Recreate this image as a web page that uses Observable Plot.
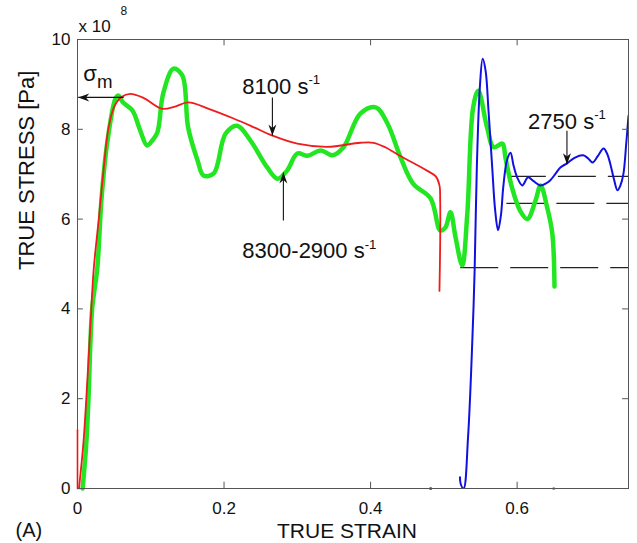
<!DOCTYPE html>
<html><head><meta charset="utf-8">
<script src="https://cdn.jsdelivr.net/npm/d3@7"></script>
<script src="https://cdn.jsdelivr.net/npm/@observablehq/plot@0.6"></script>
<style>html,body{margin:0;padding:0;background:#fff}</style>
</head><body><div id="chart"></div>
<script>
// ---- axis ticks ----
const xTicks = [0, 0.2, 0.4, 0.6];
const yTicks = [0, 2, 4, 6, 8, 10];
const xInnerTicks = [0.2, 0.4, 0.6];
const yInnerTicks = [2, 4, 6, 8];
const xMax = 0.752;

// ---- red curve: 8100 s^-1 ----
const redSpikeX = [0.0, 0.0];
const redSpikeY = [1.3, 0.0];
const redX = [0.002, 0.008, 0.012, 0.018, 0.022, 0.029, 0.035, 0.042, 0.050, 0.060, 0.072, 0.090, 0.115, 0.132, 0.151, 0.180, 0.213, 0.240, 0.266, 0.300, 0.341, 0.386, 0.404, 0.420, 0.440, 0.477, 0.489, 0.494, 0.495, 0.495, 0.494];
const redY = [0.0, 1.0, 2.0, 3.74, 4.86, 6.0, 7.0, 8.0, 8.5, 8.72, 8.79, 8.7, 8.46, 8.5, 8.6, 8.45, 8.24, 8.05, 7.86, 7.68, 7.61, 7.7, 7.7, 7.6, 7.41, 7.08, 6.95, 6.75, 6.4, 5.5, 4.4];

// ---- green curve: 8300-2900 s^-1 ----
const greenX = [0.007, 0.012, 0.015, 0.020, 0.027, 0.033, 0.041, 0.052, 0.056, 0.062, 0.075, 0.085, 0.095, 0.102, 0.109, 0.117, 0.131, 0.143, 0.151, 0.164, 0.172, 0.186, 0.202, 0.218, 0.236, 0.259, 0.273, 0.286, 0.300, 0.314, 0.332, 0.348, 0.363, 0.386, 0.407, 0.423, 0.441, 0.458, 0.482, 0.495, 0.502, 0.509, 0.516, 0.525, 0.532, 0.540, 0.547, 0.559, 0.568, 0.580, 0.584, 0.593, 0.604, 0.614, 0.625, 0.632, 0.641, 0.648, 0.651];
const greenY = [0.0, 1.0, 2.0, 4.0, 4.9, 6.5, 7.75, 8.69, 8.75, 8.6, 8.42, 8.0, 7.64, 7.75, 7.93, 8.8, 9.35, 9.2, 8.04, 7.3, 6.97, 7.02, 7.9, 8.08, 7.75, 7.15, 6.9, 7.08, 7.46, 7.41, 7.53, 7.42, 7.6, 8.35, 8.49, 8.13, 7.37, 6.79, 6.46, 5.75, 5.81, 6.15, 5.59, 4.97, 6.12, 8.49, 8.86, 8.04, 7.6, 7.68, 7.37, 6.7, 6.19, 6.0, 6.41, 6.75, 6.26, 5.68, 4.5];

// ---- blue curve: 2750 s^-1 ----
const blueX = [0.522, 0.523, 0.527, 0.533, 0.539, 0.542, 0.545, 0.549, 0.553, 0.557, 0.561, 0.566, 0.570, 0.574, 0.578, 0.581, 0.586, 0.591, 0.595, 0.600, 0.607, 0.615, 0.622, 0.632, 0.640, 0.645, 0.652, 0.659, 0.668, 0.679, 0.690, 0.697, 0.703, 0.710, 0.718, 0.723, 0.727, 0.732, 0.737, 0.741, 0.745, 0.749, 0.752];
const blueY = [0.25, 0.1, 0.0, 1.14, 3.36, 4.86, 7.15, 8.9, 9.57, 9.3, 8.4, 7.15, 6.2, 5.75, 6.1, 6.7, 7.3, 7.48, 7.2, 6.93, 6.75, 6.93, 6.85, 6.75, 6.8, 6.86, 7.0, 7.15, 7.24, 7.37, 7.42, 7.35, 7.26, 7.4, 7.57, 7.45, 7.24, 6.9, 6.64, 6.75, 7.0, 7.7, 8.3];

// ---- dashed reference levels ----
const dashY = [6.95, 6.35, 4.92];
const dashStart = [0.588, 0.586, 0.523];

// ---- stray points on the strain axis ----
const strayX = [0.482, 0.650];
const strayY = [0, 0];
const strayColor = ["#ee1c1c", "#22e622"];

// ---- annotation arrows (tail -> tip) ----
const arrowTailX = [0.063, 0.266, 0.281, 0.668];
const arrowTailY = [8.71, 8.71, 5.97, 7.97];
const arrowTipX = [0.001, 0.266, 0.281, 0.668];
const arrowTipY = [8.71, 7.86, 7.04, 7.22];
const arrowDir = ["left", "down", "up", "down"];

// ---- annotation labels ----
const labelText = ["\u03c3_{m}", "8100 s^{-1}", "8300-2900 s^{-1}", "2750 s^{-1}"];
const labelX = [0.008, 0.225, 0.225, 0.615];
const labelY = [9.24, 8.95, 5.28, 8.17];

// ---- build tables ----
const zipXY = (xs, ys) => xs.map((x, i) => ({x, y: ys[i]}));
const red = zipXY(redX, redY);
const redSpike = zipXY(redSpikeX, redSpikeY);
const green = zipXY(greenX, greenY);
const blue = zipXY(blueX, blueY);
const dashes = dashY.map((y, i) => ({y, x1: dashStart[i], x2: xMax}));
const strays = strayX.map((x, i) => ({x, y: strayY[i], c: strayColor[i]}));
const arrows = arrowDir.map((d, i) => ({x1: arrowTailX[i], y1: arrowTailY[i], x2: arrowTipX[i], y2: arrowTipY[i], dir: d}));
const labels = labelText.map((t, i) => ({t, x: labelX[i], y: labelY[i]}));

// arrowhead symbols (tip at origin)
const L = 11, W = 4;
const headDown = {draw(c) { c.moveTo(0, 0); c.lineTo(-W, -L); c.lineTo(0, -0.7 * L); c.lineTo(W, -L); c.closePath(); }};
const headUp = {draw(c) { c.moveTo(0, 0); c.lineTo(-W, L); c.lineTo(0, 0.7 * L); c.lineTo(W, L); c.closePath(); }};
const headLeft = {draw(c) { c.moveTo(0, 0); c.lineTo(L, -W); c.lineTo(0.7 * L, 0); c.lineTo(L, W); c.closePath(); }};

const ink = "#111";
const axisInk = "#555";
const font = "'Liberation Sans', Arial, Helvetica, sans-serif";

const chart = Plot.plot({
  width: 637,
  height: 543,
  marginLeft: 77,
  marginRight: 9,
  marginTop: 39,
  marginBottom: 55,
  style: {fontFamily: font, background: "#fff", color: ink},
  x: {domain: [0, xMax]},
  y: {domain: [0, 10]},
  marks: [
    // dashed levels
    Plot.ruleY(dashes, {y: "y", x1: "x1", x2: "x2", stroke: "#222", strokeWidth: 1.2, strokeDasharray: "38,12"}),
    // curves
    Plot.line(green, {x: "x", y: "y", stroke: "#22e622", strokeWidth: 4.5, strokeLinejoin: "round", strokeLinecap: "round", curve: "catmull-rom"}),
    Plot.line(redSpike, {x: "x", y: "y", stroke: "#ee1c1c", strokeWidth: 1.6}),
    Plot.line(red, {x: "x", y: "y", stroke: "#ee1c1c", strokeWidth: 1.8, curve: "catmull-rom"}),
    Plot.line(blue, {x: "x", y: "y", stroke: "#1010e0", strokeWidth: 2, curve: "catmull-rom", clip: true}),
    Plot.dot(strays, {x: "x", y: "y", fill: "c", r: 1.6}),
    // frame and inward ticks
    Plot.frame({stroke: axisInk, strokeWidth: 1}),
    Plot.ruleX(xInnerTicks, {x: d => d, y1: 0, y2: 0.14, stroke: axisInk}),
    Plot.ruleX(xInnerTicks, {x: d => d, y1: 10, y2: 9.86, stroke: axisInk}),
    Plot.ruleY(yInnerTicks, {y: d => d, x1: 0, x2: 0.008, stroke: axisInk}),
    Plot.ruleY(yInnerTicks, {y: d => d, x1: xMax, x2: xMax - 0.008, stroke: axisInk}),
    // tick labels
    Plot.axisX(xTicks, {tickSize: 0, tickPadding: 13, fontSize: 17, tickFormat: d => String(d), label: null, fill: ink}),
    Plot.axisY(yTicks, {tickSize: 0, tickPadding: 7, fontSize: 17, tickFormat: d => String(d), label: null, fill: ink}),
    // axis titles and panel tag
    Plot.text(["TRUE STRAIN"], {frameAnchor: "bottom", text: d => d, dx: -6, dy: 43, fontSize: 21, lineAnchor: "middle", fill: ink}),
    Plot.text(["TRUE STRESS [Pa]"], {frameAnchor: "left", text: d => d, rotate: -90, dx: -51, dy: 6, fontSize: 22, lineAnchor: "middle", fill: ink}),
    Plot.text(["(A)"], {frameAnchor: "bottom-left", text: d => d, textAnchor: "start", dx: -62, dy: 42, fontSize: 20, lineAnchor: "middle", fill: ink}),
    Plot.text(["x 10"], {frameAnchor: "top-left", text: d => d, textAnchor: "start", dx: 1, dy: -13, fontSize: 17, lineAnchor: "middle", fill: ink}),
    Plot.text(["8"], {frameAnchor: "top-left", text: d => d, textAnchor: "start", dx: 43, dy: -28, fontSize: 12, lineAnchor: "middle", fill: ink}),
    // arrows
    Plot.link(arrows, {x1: "x1", y1: "y1", x2: "x2", y2: "y2", stroke: ink, strokeWidth: 1.1}),
    Plot.dot(arrows.filter(a => a.dir === "down"), {x: "x2", y: "y2", symbol: headDown, fill: ink, stroke: "none"}),
    Plot.dot(arrows.filter(a => a.dir === "up"), {x: "x2", y: "y2", symbol: headUp, fill: ink, stroke: "none"}),
    Plot.dot(arrows.filter(a => a.dir === "left"), {x: "x2", y: "y2", symbol: headLeft, fill: ink, stroke: "none"}),
    // labels
    Plot.text(labels, {x: "x", y: "y", text: "t", textAnchor: "start", lineAnchor: "middle", fontSize: 22, fill: ink})
  ]
});

document.getElementById("chart").appendChild(chart);

// render ^{..} as superscript and _{..} as subscript
function richText(root) {
  root.querySelectorAll("text").forEach(t => {
    const s = t.textContent;
    if (!/[\^_]\{/.test(s) || t.querySelector("tspan")) return;
    const F = parseFloat(getComputedStyle(t).fontSize) || 16;
    const parts = s.split(/([\^_]\{[^}]*\})/).filter(p => p);
    t.textContent = "";
    let shift = 0;
    parts.forEach(p => {
      const ts = document.createElementNS("http://www.w3.org/2000/svg", "tspan");
      let dy = 0;
      if (p.startsWith("^{")) { ts.textContent = p.slice(2, -1); ts.setAttribute("font-size", (0.6 * F) + "px"); dy = -0.45 * F; }
      else if (p.startsWith("_{")) { ts.textContent = p.slice(2, -1); ts.setAttribute("font-size", (0.85 * F) + "px"); dy = 0.35 * F; }
      else { ts.textContent = p; }
      const d = dy - shift; shift = dy;
      if (d) ts.setAttribute("dy", d);
      t.appendChild(ts);
    });
  });
}
richText(chart);
</script>
</body></html>
